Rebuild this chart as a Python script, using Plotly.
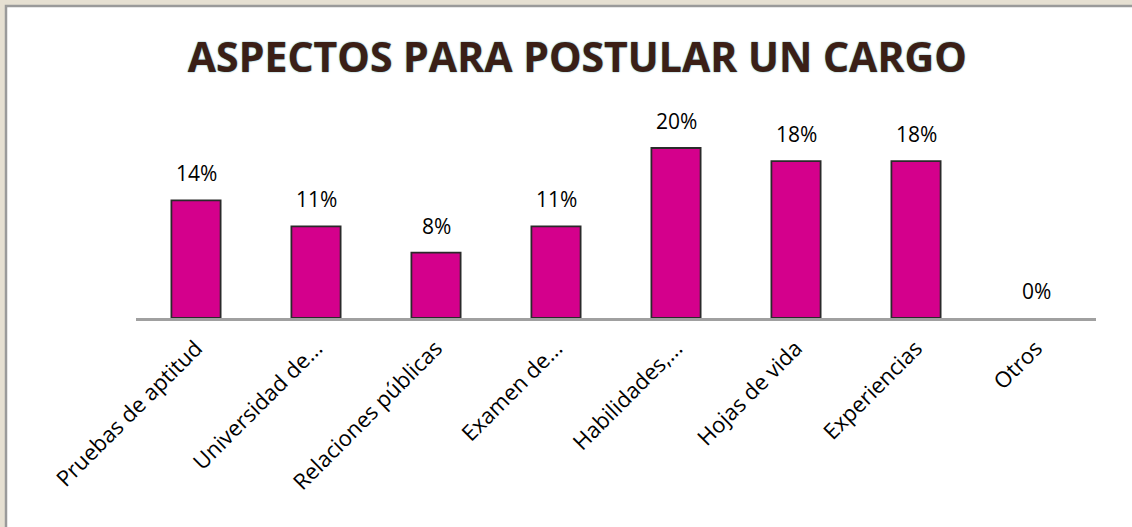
import plotly.graph_objects as go

categories = ["Pruebas de aptitud", "Universidad de...", "Relaciones públicas", "Examen de...",
              "Habilidades,...", "Hojas de vida", "Experiencias", "Otros"]
values = [13.85, 10.77, 7.69, 10.77, 20.0, 18.46, 18.46, 0.0]
labels = ["14%", "11%", "8%", "11%", "20%", "18%", "18%", "0%"]
title_text = "ASPECTOS PARA POSTULAR UN CARGO"

W, H = 1132, 527
L, R, T, B = 136, 36, 60, 209
pw, ph = W - L - R, H - T - B
px_per_unit = 8.5
ymax = ph / px_per_unit
BG = "#E6E0D2"

def px_x(p):
    return (p - L) / pw

def px_y(p):
    return (H - B - p) / ph

fig = go.Figure()
fig.add_trace(go.Bar(
    x=categories, y=values,
    marker=dict(color="#D4008C",
                line=dict(color="#2A2A2A", width=[1.8 if v > 0 else 0 for v in values])),
    width=0.41, hoverinfo="skip",
))

for c, v, t in zip(categories, values, labels):
    fig.add_annotation(x=c, y=v, text=t, showarrow=False, yanchor="middle", yshift=27,
                       font=dict(family="Open Sans", size=21, color="#000000"))

# white panel with gray border
fig.add_shape(type="rect", xref="paper", yref="paper", layer="below",
              x0=px_x(6), x1=px_x(1145), y0=px_y(540), y1=px_y(6),
              fillcolor="#FFFFFF", line=dict(color="#9A9A9A", width=2.5))

fig.update_layout(
    width=W, height=H,
    margin=dict(l=L, r=R, t=T, b=B, autoexpand=False),
    paper_bgcolor=BG, plot_bgcolor="rgba(0,0,0,0)",
    showlegend=False,
    title=dict(text=title_text, x=0.51, xanchor="center", y=1 - 58 / H, yanchor="middle",
               yref="container",
               font=dict(family="Open Sans", size=41, color="#3B1F16", weight="bold",
                         shadow="0px 0px 1.5px #2E8C9A")),
    xaxis=dict(showline=True, linecolor="#A0A0A0", linewidth=2.5, ticks="", tickangle=-45,
               showgrid=False, tickfont=dict(family="Open Sans", size=22, color="#000000"),
               ticklabelstandoff=6, automargin=False,
               range=[-0.5, 7.5], fixedrange=True),
    yaxis=dict(visible=False, range=[0, ymax], showgrid=False, zeroline=False, fixedrange=True),
)

fig.write_html("out.html", config={"displayModeBar": False},
               post_script=f"document.body.style.margin='0';document.body.style.background='{BG}';")
